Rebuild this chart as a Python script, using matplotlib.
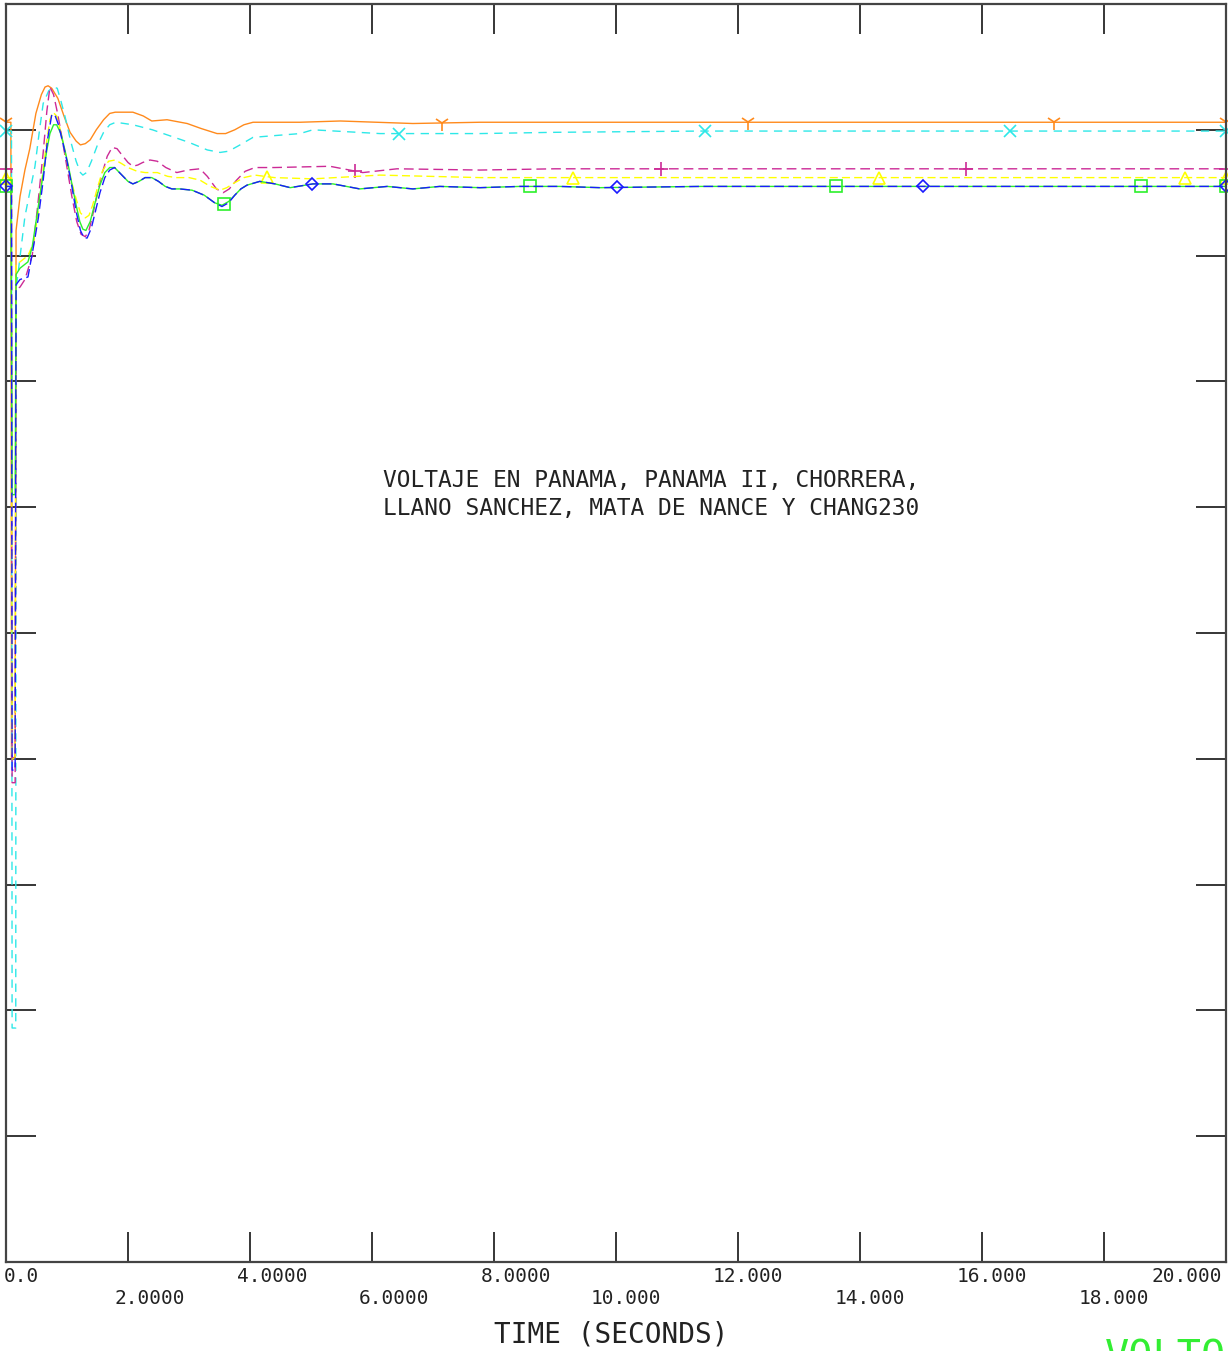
import numpy as np
import matplotlib
matplotlib.use("Agg")
import matplotlib.pyplot as plt

# time (s) / voltage (pu)
t_panama = [0, 0.08, 0.09, 0.15, 0.165, 0.23, 0.31, 0.39, 0.49, 0.58, 0.64, 0.69, 0.75, 0.85, 0.95,
            1.05, 1.15, 1.22, 1.30, 1.38, 1.48, 1.60, 1.70, 1.79, 2.08, 2.25, 2.39, 2.64, 2.97, 3.2,
            3.46, 3.60, 3.75, 3.90, 4.05, 4.82, 5.48, 6.67, 7.77, 9.0, 20.0]
v_panama = [1.106, 1.106, 0.601, 0.601, 1.020, 1.047, 1.068, 1.085, 1.113, 1.128, 1.134, 1.135, 1.133, 1.125, 1.111,
            1.098, 1.091, 1.088, 1.089, 1.092, 1.100, 1.108, 1.113, 1.114, 1.114, 1.111, 1.107, 1.108, 1.105, 1.101,
            1.097, 1.097, 1.100, 1.104, 1.106, 1.106, 1.107, 1.105, 1.106, 1.106, 1.106]

t_panama2 = [0, 0.09, 0.10, 0.16, 0.165, 0.31, 0.475, 0.55, 0.61, 0.70, 0.78, 0.84, 0.90, 0.97, 1.06,
             1.15, 1.22, 1.26, 1.32, 1.40, 1.50, 1.60, 1.70, 1.80, 2.08, 2.40, 2.64, 3.0, 3.30, 3.51,
             3.65, 3.80, 4.05, 4.82, 5.03, 6.13, 7.77, 9.0, 11.4, 20.0]
v_panama2 = [1.099, 1.099, 0.386, 0.386, 0.973, 1.031, 1.071, 1.100, 1.121, 1.131, 1.134, 1.133, 1.123, 1.110, 1.091,
             1.075, 1.066, 1.064, 1.066, 1.075, 1.088, 1.098, 1.104, 1.106, 1.104, 1.100, 1.096, 1.090, 1.084, 1.082,
             1.083, 1.087, 1.094, 1.097, 1.100, 1.097, 1.097, 1.098, 1.099, 1.099]

t_chorrera = [0, 0.09, 0.10, 0.15, 0.165, 0.23, 0.31, 0.43, 0.52, 0.61, 0.67, 0.72, 0.78, 0.85, 0.92,
              1.0, 1.08, 1.16, 1.23, 1.30, 1.36, 1.42, 1.50, 1.58, 1.66, 1.74, 1.82, 1.90, 2.0, 2.08,
              2.16, 2.24, 2.36, 2.48, 2.62, 2.80, 2.98, 3.18, 3.30, 3.45, 3.56, 3.66, 3.78, 3.92, 4.08,
              4.40, 5.31, 5.85, 6.41, 7.77, 9.0, 12.0, 20.0]
v_chorrera = [1.069, 1.069, 0.581, 0.581, 0.973, 0.975, 0.981, 1.000, 1.040, 1.082, 1.115, 1.134, 1.128, 1.112, 1.093,
              1.070, 1.047, 1.027, 1.017, 1.015, 1.020, 1.032, 1.050, 1.066, 1.079, 1.086, 1.085, 1.080, 1.074, 1.071,
              1.072, 1.074, 1.076, 1.075, 1.070, 1.066, 1.068, 1.069, 1.063, 1.053, 1.050, 1.053, 1.060, 1.067, 1.070,
              1.070, 1.071, 1.066, 1.069, 1.068, 1.069, 1.069, 1.069]

t_llano = [0, 0.09, 0.10, 0.15, 0.165, 0.23, 0.36, 0.45, 0.53, 0.60, 0.67, 0.72, 0.77, 0.83, 0.90,
           0.97, 1.05, 1.15, 1.22, 1.30, 1.36, 1.42, 1.50, 1.58, 1.68, 1.79, 1.90, 2.0, 2.15, 2.28,
           2.48, 2.65, 2.80, 3.0, 3.18, 3.35, 3.51, 3.62, 3.75, 3.90, 4.08, 4.40, 5.03, 6.13, 7.77,
           9.0, 20.0]
v_llano = [1.062, 1.062, 0.600, 0.600, 0.993, 0.995, 1.000, 1.010, 1.035, 1.065, 1.092, 1.108, 1.114, 1.111, 1.098,
           1.082, 1.063, 1.045, 1.034, 1.030, 1.032, 1.040, 1.054, 1.067, 1.075, 1.076, 1.073, 1.070, 1.067, 1.066,
           1.066, 1.063, 1.062, 1.062, 1.060, 1.055, 1.052, 1.054, 1.058, 1.062, 1.064, 1.062, 1.061, 1.064, 1.062,
           1.062, 1.062]

t_mata = [0, 0.08, 0.10, 0.15, 0.165, 0.23, 0.36, 0.43, 0.52, 0.60, 0.67, 0.72, 0.78, 0.83, 0.90,
          0.96, 1.02, 1.08, 1.15, 1.21, 1.26, 1.31, 1.38, 1.46, 1.54, 1.62, 1.70, 1.78, 1.90, 2.0,
          2.08, 2.18, 2.28, 2.39, 2.50, 2.61, 2.72, 2.85, 3.05, 3.25, 3.42, 3.54, 3.65, 3.75, 3.85,
          3.95, 4.16, 4.41, 4.66, 5.03, 5.36, 5.80, 6.25, 6.67, 7.11, 7.77, 8.43, 9.08, 9.74, 11.4,
          14.7, 20.0]
v_mata = [1.055, 1.055, 0.810, 0.810, 0.985, 0.990, 0.995, 1.007, 1.036, 1.062, 1.084, 1.097, 1.104, 1.104, 1.097,
          1.085, 1.072, 1.057, 1.040, 1.027, 1.021, 1.020, 1.027, 1.042, 1.056, 1.066, 1.070, 1.070, 1.064, 1.059,
          1.057, 1.059, 1.062, 1.062, 1.059, 1.055, 1.053, 1.053, 1.052, 1.048, 1.042, 1.040, 1.043, 1.048, 1.053,
          1.056, 1.059, 1.057, 1.054, 1.057, 1.057, 1.053, 1.055, 1.053, 1.055, 1.054, 1.055, 1.055, 1.054, 1.055,
          1.055, 1.055]

t_chang = [0, 0.09, 0.10, 0.15, 0.165, 0.23, 0.36, 0.45, 0.53, 0.61, 0.68, 0.75, 0.80, 0.86, 0.93,
           1.0, 1.08, 1.15, 1.22, 1.28, 1.33, 1.40, 1.47, 1.54, 1.62, 1.70, 1.78, 1.90, 2.0, 2.08,
           2.18, 2.28, 2.39, 2.50, 2.61, 2.72, 2.85, 3.05, 3.25, 3.42, 3.54, 3.65, 3.75, 3.85, 3.95,
           4.16, 4.41, 4.66, 5.03, 5.36, 5.80, 6.25, 6.67, 7.11, 7.77, 8.43, 9.08, 9.74, 11.4, 14.7,
           20.0]
v_chang = [1.055, 1.055, 0.591, 0.591, 0.977, 0.981, 0.983, 1.007, 1.030, 1.060, 1.092, 1.112, 1.112, 1.104, 1.090,
           1.075, 1.055, 1.035, 1.020, 1.014, 1.014, 1.022, 1.036, 1.050, 1.062, 1.068, 1.070, 1.064, 1.059, 1.057,
           1.059, 1.062, 1.062, 1.059, 1.055, 1.053, 1.053, 1.052, 1.048, 1.042, 1.039, 1.042, 1.048, 1.053, 1.056,
           1.059, 1.057, 1.054, 1.057, 1.057, 1.053, 1.055, 1.053, 1.055, 1.054, 1.055, 1.055, 1.054, 1.055, 1.055,
           1.055]

# marker times for each channel
mk_panama = [0, 7.15, 12.16, 17.18, 20.0]
mk_panama2 = [0, 6.44, 11.46, 16.46, 20.0]
mk_chorrera = [0, 5.72, 10.74, 15.74, 20.0]
mk_llano = [0, 4.28, 9.30, 14.31, 19.33, 20.0]
mk_mata = [0, 3.57, 8.59, 13.61, 18.61, 20.0]
mk_chang = [0, 5.02, 10.02, 15.03, 20.0]

x_ticks = [2, 4, 6, 8, 10, 12, 14, 16, 18]
y_ticks = [0.3, 0.4, 0.5, 0.6, 0.7, 0.8, 0.9, 1.0, 1.1]
x_labels = ["0.0", "2.0000", "4.0000", "6.0000", "8.0000", "10.000",
            "12.000", "14.000", "16.000", "18.000", "20.000"]

W, H = 1228, 1351
fig = plt.figure(figsize=(W / 100, H / 100), dpi=100)
ax = fig.add_axes([6 / W, 1 - 1262 / H, 1220 / W, 1258 / H])
ax.set_xlim(0, 20)
ax.set_ylim(0.2, 1.2)

series = [
    (t_panama, v_panama, mk_panama, "#ff8a1c", "-", "1", 11),
    (t_panama2, v_panama2, mk_panama2, "#2de8e8", (0, (6, 4.6)), "x", 8),
    (t_chorrera, v_chorrera, mk_chorrera, "#cc2a96", (0, (7, 3.6)), "+", 10),
    (t_llano, v_llano, mk_llano, "#ffff00", (0, (5.8, 3)), "^", 8),
    (t_mata, v_mata, mk_mata, "#2cf02c", "-", "s", 8),
    (t_chang, v_chang, mk_chang, "#1a1aff", (0, (7, 3.2)), "D", 6.5),
]
for t, v, mk, c, ls, m, ms in series:
    ax.plot(t, v, color=c, ls=ls, lw=1.0)
    ax.plot(mk, np.interp(mk, t, v), ls="none", marker=m, ms=ms, mfc="none",
            mec=c, mew=1.2, clip_on=False)

ax.set_xticks(x_ticks)
ax.set_yticks(y_ticks)
ax.tick_params(axis="both", direction="in", length=21.6, width=1.1, color="black",
               top=True, right=True, labelbottom=False, labelleft=False)
for s in ax.spines.values():
    s.set_color("#444444")
    s.set_linewidth(1.6)

mono = "DejaVu Sans Mono"
# x tick labels, staggered on two rows like the original
for i, lab in enumerate(x_labels):
    val = 2 * i
    if i == 0:
        dx = 15
    elif i == len(x_labels) - 1:
        dx = -39
    elif val < 10:
        dx = 22
    else:
        dx = 10
    xp = 6 + val * 61 + dx
    yp = 1277 if i % 2 == 0 else 1299
    fig.text(xp / W, 1 - yp / H, lab, family=mono, fontsize=14, color="#222222",
             ha="center", va="center")

fig.text(611 / W, 1 - 1335 / H, "TIME (SECONDS)", family=mono, fontsize=20,
         color="#222222", ha="center", va="center")
fig.text(1105 / W, 1 - 1338 / H, "VOLTO", family=mono, fontsize=29, color="#33ee33",
         ha="left", va="top")

fig.text(383 / W, 1 - 481 / H, "VOLTAJE EN PANAMA, PANAMA II, CHORRERA,", family=mono,
         fontsize=16.5, color="#222222", ha="left", va="center")
fig.text(383 / W, 1 - 508 / H, "LLANO SANCHEZ, MATA DE NANCE Y CHANG230", family=mono,
         fontsize=16.5, color="#222222", ha="left", va="center")

fig.savefig("out.png", dpi=100)
